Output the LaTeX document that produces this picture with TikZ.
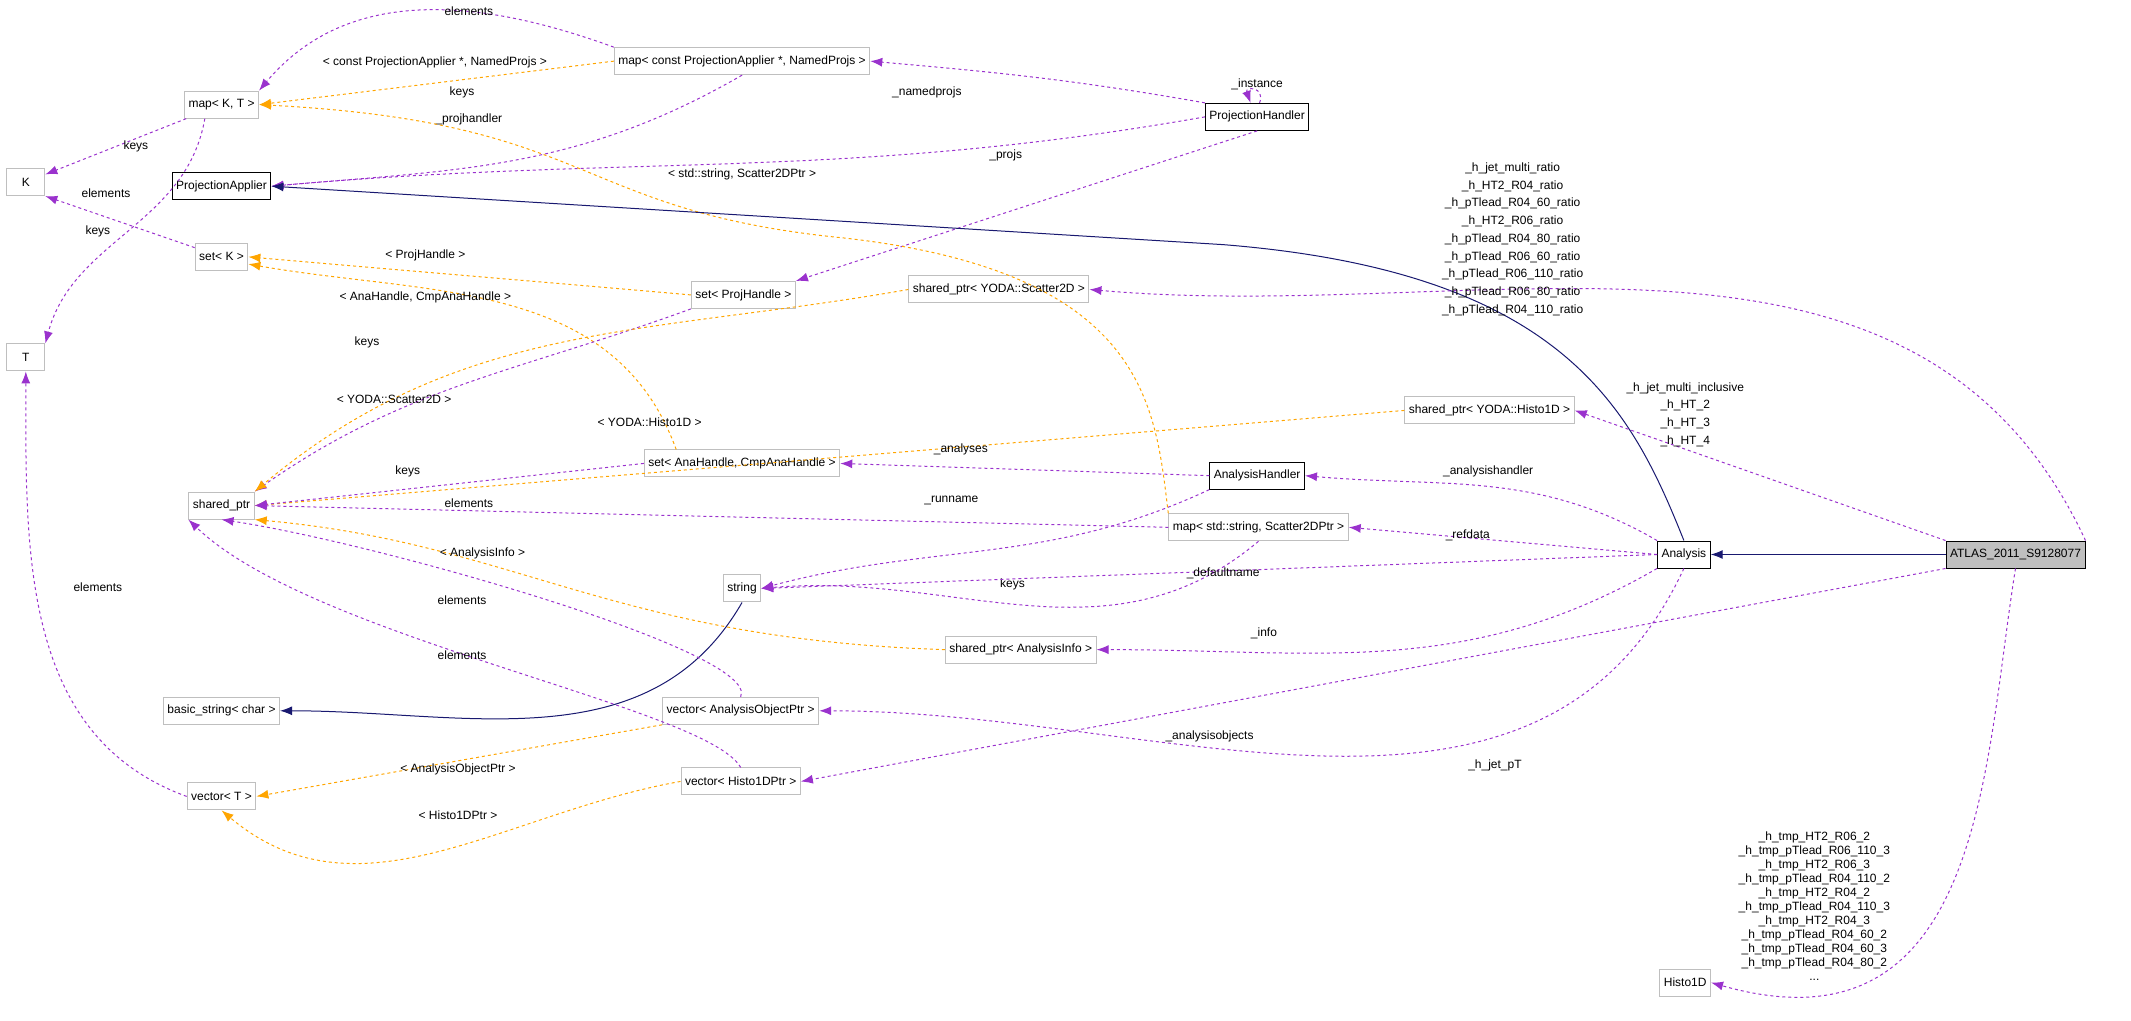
\documentclass[tikz,border=0pt]{standalone}
\usepackage{fontspec}
\setmainfont{Liberation Sans}
\usetikzlibrary{arrows.meta,positioning}
\definecolor{dep}{HTML}{9A32CD}
\definecolor{tmpl}{HTML}{FFA500}
\definecolor{inh}{HTML}{191970}
\definecolor{boxgray}{HTML}{BFBFBF}
\tikzset{>={Latex[width=9pt,length=12pt]}}
\tikzset{every node/.style={font=\fontsize{12}{17.7}\selectfont}}
\tikzset{cls/.style={draw=boxgray,fill=white,line width=1pt,minimum height=27pt,inner sep=4pt}}
\tikzset{doc/.style={cls,draw=black}}
\tikzset{use/.style={->,draw=dep,dashed,line width=1pt}}
\tikzset{tpl/.style={->,draw=tmpl,dashed,line width=1pt}}
\tikzset{base/.style={->,draw=inh,line width=1pt}}
\tikzset{lbl/.style={align=center,inner sep=1pt}}

\begin{document}
\begin{tikzpicture}[x=1.359pt,y=-1.359pt]
  \useasboundingbox (0,0) rectangle (1568,751);

    \node(mapKT)   [cls] at (163,77)  {map< K, T >};
    \node(K)       [cls,minimum width=38pt] at (19,134)  {K};
    \node(PA)      [doc] at (163,137) {ProjectionApplier};
    \node(setK)    [cls] at (163,189) {set< K >};
    \node(T)       [cls,minimum width=38pt] at (19,263)  {T};
    \node(shared)  [cls] at (163,372) {shared\_ptr};
    \node(basic)   [cls] at (163,523) {basic\_string< char >};
    \node(vecT)    [cls] at (163,586) {vector< T >};
    \node(mapPA)   [cls] at (546,45)  {map< const ProjectionApplier *, NamedProjs >};
    \node(setPH)   [cls] at (547,217) {set< ProjHandle >};
    \node(setAH)   [cls] at (546,341) {set< AnaHandle, CmpAnaHandle >};
    \node(str)     [cls] at (546,433) {string};
    \node(vecAOP)  [cls] at (545,523) {vector< AnalysisObjectPtr >};
    \node(vecH1)   [cls] at (545,575) {vector< Histo1DPtr >};
    \node(PH)      [doc] at (925,86)  {ProjectionHandler};
    \node(shS2D)   [cls] at (735,213) {shared\_ptr< YODA::Scatter2D >};
    \node(AH)      [doc] at (925,350) {AnalysisHandler};
    \node(mapS2D)  [cls] at (926,388) {map< std::string, Scatter2DPtr >};
    \node(shAI)    [cls] at (751,478) {shared\_ptr< AnalysisInfo >};
    \node(shH1D)   [cls] at (1096,302) {shared\_ptr< YODA::Histo1D >};
    \node(ana)     [doc] at (1239,408) {Analysis};
    \node(atlas)   [doc,fill=boxgray] at (1483,408) {ATLAS\_2011\_S9128077};
    \node(h1d)     [cls] at (1240,723) {Histo1D};

    % left column
    \draw [use] (mapKT) -- (K);
    \node[lbl] at (100,108) {keys};
    \draw [use] (mapKT.220) to[out=-100,in=75] (T.north east);
    \node[lbl] at (78,142) {elements};
    \draw [use] (setK) -- (K.south east);
    \node[lbl] at (72,170) {keys};
    \draw [use] (vecT.west) to[out=160,in=-90] (T.south);
    \node[lbl] at (72,432) {elements};
    \draw [base] (str.south) to[out=-120,in=0] (basic.east);

    % projections
    \draw [use] (mapPA.north west) to[out=160,in=50] (mapKT.north east);
    \node[lbl] at (345,8) {elements};
    \draw [tpl] (mapPA.west) -- (mapKT.east);
    \node[lbl] at (320,46) {< const ProjectionApplier *, NamedProjs >};
    \draw [use] (mapPA.south) to[out=-150,in=5] (PA.east);
    \node[lbl] at (340,68) {keys};
    \draw [use] (PH.north west) to[out=170,in=-5] (mapPA.east);
    \node[lbl] at (682,68) {\_namedprojs};
    \draw [use] (PH.80) to[out=70,in=110,looseness=5] (PH.115);
    \node[lbl] at (925,62) {\_instance};
    \draw [use] (PH.west) to[out=190,in=5] (PA.east);
    \node[lbl] at (345,88) {\_projhandler};
    \draw [use] (PH.south) -- (setPH.north east);
    \node[lbl] at (740,114) {\_projs};
    \draw [tpl] (setPH.west) to[out=175,in=-5] (setK.east);
    \node[lbl] at (313,188) {< ProjHandle >};
    \draw [tpl] (setAH.168) to[out=110,in=-10] (setK.-15);
    \node[lbl] at (313,219) {< AnaHandle, CmpAnaHandle >};
    \draw [use] (setPH.south west) to[out=-160,in=35] (shared.north east);
    \node[lbl] at (270,252) {keys};
    \draw [tpl] (shS2D.west) to[out=190,in=40] (shared.north east);
    \node[lbl] at (290,294) {< YODA::Scatter2D >};
    \draw [tpl] (shH1D.west) -- (shared.east);
    \node[lbl] at (478,311) {< YODA::Histo1D >};
    \draw [use] (setAH.west) -- (shared.east);
    \node[lbl] at (300,347) {keys};
    \draw [use] (AH.west) -- (setAH.east);
    \node[lbl] at (707,331) {\_analyses};
    \draw [use] (mapS2D.west) -- (shared.east);
    \node[lbl] at (345,370) {elements};
    \draw [tpl] (mapS2D.north west) .. controls (850,300) and (845,200) .. (620,175)
      .. controls (420,155) and (440,90) .. (mapKT.east);
    \node[lbl] at (546,128) {< std::string, Scatter2DPtr >};
    \draw [use] (mapS2D.south) to[out=-140,in=5] (str.east);
    \node[lbl] at (745,430) {keys};
    \draw [use] (AH.south west) to[out=-155,in=15] (str.east);
    \node[lbl] at (700,368) {\_runname};
    \draw [tpl] (shAI.west) .. controls (450,470) and (380,400) .. (shared.south east);
    \node[lbl] at (355,407) {< AnalysisInfo >};
    \draw [use] (vecAOP.north) .. controls (560,480) and (280,400) .. (shared.south);
    \node[lbl] at (340,442) {elements};
    \draw [use] (vecH1.north) .. controls (520,520) and (230,470) .. (shared.south west);
    \node[lbl] at (340,482) {elements};
    \draw [tpl] (vecAOP.south west) -- (vecT.east);
    \node[lbl] at (337,566) {< AnalysisObjectPtr >};
    \draw [tpl] (vecH1.west) to[out=190,in=-40] (vecT.south);
    \node[lbl] at (337,600) {< Histo1DPtr >};

    % analysis
    \draw [base] (ana.north) .. controls (1200,300) and (1150,200) .. (900,180) -- (PA.east);
    \draw [base] (atlas.west) -- (ana.east);
    \draw [use] (ana.north west) to[out=150,in=-5] (AH.east);
    \node[lbl] at (1095,347) {\_analysishandler};
    \draw [use] (ana.west) -- (mapS2D.east);
    \node[lbl] at (1080,394) {\_refdata};
    \draw [use] (ana.west) -- (str.east);
    \node[lbl] at (900,422) {\_defaultname};
    \draw [use] (ana.south west) to[out=-150,in=0] (shAI.east);
    \node[lbl] at (930,466) {\_info};
    \draw [use] (ana.south) to[out=-115,in=0] (vecAOP.east);
    \node[lbl] at (890,542) {\_analysisobjects};
    \draw [use] (atlas.north east) to[out=115,in=-5] (shS2D.east);
    \node[lbl] at (1113,176) {\_h\_jet\_multi\_ratio\\\_h\_HT2\_R04\_ratio\\\_h\_pTlead\_R04\_60\_ratio\\\_h\_HT2\_R06\_ratio\\\_h\_pTlead\_R04\_80\_ratio\\\_h\_pTlead\_R06\_60\_ratio\\\_h\_pTlead\_R06\_110\_ratio\\\_h\_pTlead\_R06\_80\_ratio\\\_h\_pTlead\_R04\_110\_ratio};
    \draw [use] (atlas.north west) -- (shH1D.east);
    \node[lbl] at (1240,305) {\_h\_jet\_multi\_inclusive\\\_h\_HT\_2\\\_h\_HT\_3\\\_h\_HT\_4};
    \draw [use] (atlas.south west) -- (vecH1.east);
    \node[lbl] at (1100,563) {\_h\_jet\_pT};
    \draw [use] (atlas.south) .. controls (1460,560) and (1460,780) .. (h1d.east);
    \node[lbl,font=\fontsize{12}{14}\selectfont] at (1335,667) {\_h\_tmp\_HT2\_R06\_2\\\_h\_tmp\_pTlead\_R06\_110\_3\\\_h\_tmp\_HT2\_R06\_3\\\_h\_tmp\_pTlead\_R04\_110\_2\\\_h\_tmp\_HT2\_R04\_2\\\_h\_tmp\_pTlead\_R04\_110\_3\\\_h\_tmp\_HT2\_R04\_3\\\_h\_tmp\_pTlead\_R04\_60\_2\\\_h\_tmp\_pTlead\_R04\_60\_3\\\_h\_tmp\_pTlead\_R04\_80\_2\\...};

  \end{tikzpicture}
\end{document}
